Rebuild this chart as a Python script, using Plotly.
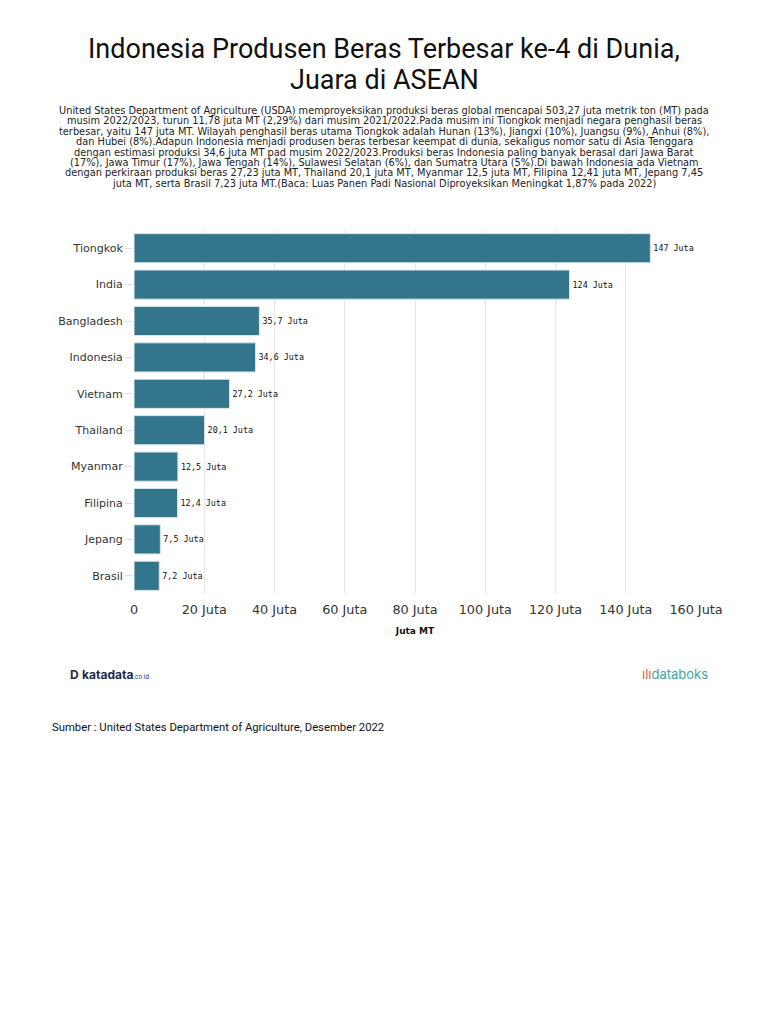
import plotly.graph_objects as go

countries = ["Tiongkok", "India", "Bangladesh", "Indonesia", "Vietnam", "Thailand",
             "Myanmar", "Filipina", "Jepang", "Brasil"]
values = [147, 124, 35.7, 34.6, 27.2, 20.1, 12.5, 12.4, 7.5, 7.2]
value_labels = ["147 Juta", "124 Juta", "35,7 Juta", "34,6 Juta", "27,2 Juta", "20,1 Juta",
                "12,5 Juta", "12,4 Juta", "7,5 Juta", "7,2 Juta"]
tick_vals = [0, 20, 40, 60, 80, 100, 120, 140, 160]
tick_text = ["0", "20 Juta", "40 Juta", "60 Juta", "80 Juta", "100 Juta", "120 Juta", "140 Juta", "160 Juta"]

title_lines = ["Indonesia Produsen Beras Terbesar ke-4 di Dunia,", "Juara di ASEAN"]
subtitle_lines = [
    "United States Department of Agriculture (USDA) memproyeksikan produksi beras global mencapai 503,27 juta metrik ton (MT) pada",
    "musim 2022/2023, turun 11,78 juta MT (2,29%) dari musim 2021/2022.Pada musim ini Tiongkok menjadi negara penghasil beras",
    "terbesar, yaitu 147 juta MT. Wilayah penghasil beras utama Tiongkok adalah Hunan (13%), Jiangxi (10%), Juangsu (9%), Anhui (8%),",
    "dan Hubei (8%).Adapun Indonesia menjadi produsen beras terbesar keempat di dunia, sekaligus nomor satu di Asia Tenggara",
    "dengan estimasi produksi 34,6 juta MT pad musim 2022/2023.Produksi beras Indonesia paling banyak berasal dari Jawa Barat",
    "(17%), Jawa Timur (17%), Jawa Tengah (14%), Sulawesi Selatan (6%), dan Sumatra Utara (5%).Di bawah Indonesia ada Vietnam",
    "dengan perkiraan produksi beras 27,23 juta MT, Thailand 20,1 juta MT, Myanmar 12,5 juta MT, Filipina 12,41 juta MT, Jepang 7,45",
    "juta MT, serta Brasil 7,23 juta MT.(Baca: Luas Panen Padi Nasional Diproyeksikan Meningkat 1,87% pada 2022)",
]
source = "Sumber : United States Department of Agriculture, Desember 2022"

W, H = 768, 1024
OFF = 8  # page body margin
L, R, T, B = 126, 80, 222, 438

fig = go.Figure(go.Bar(
    x=values, y=countries, orientation="h",
    marker=dict(color="#33758a", line=dict(color="#d8e6ea", width=1)),
    text=value_labels, textposition="outside",
    textfont=dict(family="DejaVu Sans Mono", size=8.4, color="#111"),
    cliponaxis=False,
))

fig.update_layout(
    width=W, height=H,
    margin=dict(l=L, r=R, t=T, b=B),
    paper_bgcolor="white", plot_bgcolor="white",
    bargap=0.2, showlegend=False,
    xaxis=dict(range=[0, 160], tickvals=tick_vals, ticktext=tick_text,
               tickfont=dict(family="DejaVu Sans", size=12.8, color="#333"),
               showgrid=True, gridcolor="#e8e8e8", gridwidth=1, zeroline=False,
               showline=False, ticks="outside", ticklen=4, tickcolor="rgba(0,0,0,0)",
               title=dict(text="<b>Juta MT</b>", font=dict(family="DejaVu Sans", size=9, color="#111"),
                          standoff=11)),
    yaxis=dict(autorange="reversed", tickfont=dict(family="DejaVu Sans", size=11, color="#333"),
               ticks="outside", ticklen=8, tickcolor="#e0e0e0", showgrid=False, showline=False),
    font=dict(family="Roboto"),
)

def py(pix):
    fy = pix - OFF
    return (H - B - fy) / (H - B - T)

def px(pix):
    fx = pix - OFF
    return (fx - L) / (W - L - R)

for i, line in enumerate(title_lines):
    fig.add_annotation(text=line, x=px(384), y=py(49 + 31.5 * i), xref="paper", yref="paper",
                       showarrow=False, xanchor="center", yanchor="middle",
                       font=dict(family="Roboto", size=27, color="#111"))

for i, line in enumerate(subtitle_lines):
    fig.add_annotation(text=line, x=px(384), y=py(110 + 10.5 * i), xref="paper", yref="paper",
                       showarrow=False, xanchor="center", yanchor="middle",
                       font=dict(family="DejaVu Sans", size=9.8, color="#222"))

fig.add_annotation(text="<b>D</b> <b>katadata</b><span style='font-size:6px'>.co.id</span>",
                   x=px(68), y=py(674), xref="paper", yref="paper", showarrow=False,
                   xanchor="left", yanchor="middle",
                   font=dict(family="Inter", size=12, color="#1c2a4a"))
fig.add_annotation(text="<span style='color:#e8603c'>ılı</span>databoks",
                   x=px(710), y=py(674), xref="paper", yref="paper", showarrow=False,
                   xanchor="right", yanchor="middle",
                   font=dict(family="Inter", size=13, color="#3aa8a5"))
fig.add_annotation(text=source, x=px(50), y=py(727), xref="paper", yref="paper",
                   showarrow=False, xanchor="left", yanchor="middle",
                   font=dict(family="Roboto", size=11.3, color="#111"))

fig.write_html("out.html")
